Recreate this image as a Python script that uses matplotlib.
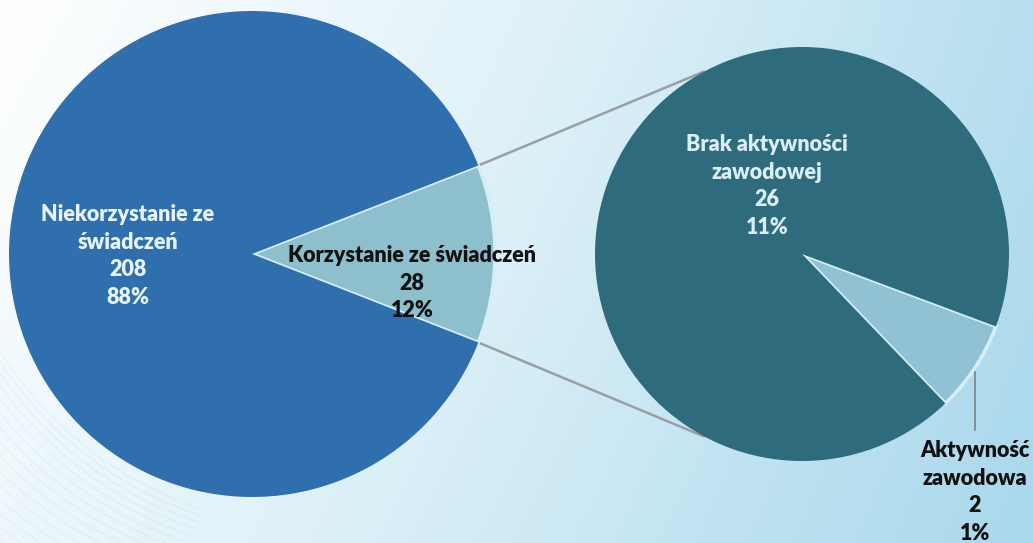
import numpy as np
import matplotlib.pyplot as plt
from matplotlib.colors import LinearSegmentedColormap

# data
main_labels = ['Korzystanie ze świadczeń', 'Niekorzystanie ze\nświadczeń']
main_values = [28, 208]
main_pcts = ['12%', '88%']
sub_labels = ['Aktywność\nzawodowa', 'Brak aktywności\nzawodowej']
sub_values = [2, 26]
sub_pcts = ['1%', '11%']

W, H = 1033, 543
fig = plt.figure(figsize=(W / 100, H / 100), dpi=100)
plt.rcParams['font.family'] = ['Lato', 'DejaVu Sans']

# background gradient
bg = fig.add_axes([0, 0, 1, 1], zorder=0)
xx, yy = np.meshgrid(np.linspace(0, 1, 400), np.linspace(0, 1, 200))
t = np.clip(0.85 * xx + 0.25 * yy - 0.1 * xx * yy, 0, 1)
cmap = LinearSegmentedColormap.from_list('bgc', ['#ffffff', '#dcf0f8', '#a9d8ec'])
bg.imshow(t, cmap=cmap, extent=[0, W, 0, H], aspect='auto', origin='upper')
# faint swirl lines bottom-left
for k in range(40):
    th = np.linspace(0.6 * np.pi, 1.6 * np.pi, 200)
    r = 420 + k * 4
    bg.plot(260 + 60 * np.cos(k / 8) + r * np.cos(th) * 0.9,
            H - (150 + k * 3 + r * np.sin(th) * 0.9),
            color='#9ccfe2', lw=0.4, alpha=0.35)
bg.set_xlim(0, W)
bg.set_ylim(0, H)
bg.axis('off')

ax = fig.add_axes([0, 0, 1, 1], zorder=1)
ax.patch.set_alpha(0)

c1 = (252, H - 254)
r1 = 243
c2 = (802, H - 254)
r2 = 207

half = 180 * main_values[0] / sum(main_values)
w1, _ = ax.pie(main_values, colors=['#8dbfcd', '#2f6fae'], startangle=-half,
               center=c1, radius=r1, counterclock=True)
w2, _ = ax.pie(sub_values, colors=['#90c2d3', '#2e6b7c'], startangle=-46.2,
               center=c2, radius=r2, counterclock=True)
for w in list(w1) + list(w2):
    w.set_edgecolor('none')
    w.set_linewidth(0)
w1[0].set_edgecolor('#d6eef5'); w1[0].set_linewidth(2.5)
w2[0].set_edgecolor('#d6eef5'); w2[0].set_linewidth(2.5)

# connector lines
for sgn in (1, -1):
    a = np.radians(sgn * half)
    b = np.radians(sgn * 118)
    ax.plot([c1[0] + r1 * np.cos(a), c2[0] + r2 * np.cos(b)],
            [c1[1] + r1 * np.sin(a), c2[1] + r2 * np.sin(b)],
            color='#9a9fa3', lw=1.8, zorder=0.5, solid_capstyle='butt')

# leader line for small slice
ax.plot([975, 975], [H - 372, H - 430], color='#7f8a90', lw=1.3)

fs = 15.5
ls = 1.4
wt = 'heavy'
ax.text(128, H - 256, f'{main_labels[1]}\n{main_values[1]}\n{main_pcts[1]}',
        ha='center', va='center', fontsize=fs, fontweight=wt,
        color='#e9f4f8', linespacing=ls)
ax.text(412, H - 283, f'{main_labels[0]}\n{main_values[0]}\n{main_pcts[0]}',
        ha='center', va='center', fontsize=fs, fontweight=wt,
        color='#111111', linespacing=ls)
ax.text(767, H - 186, f'{sub_labels[1]}\n{sub_values[1]}\n{sub_pcts[1]}',
        ha='center', va='center', fontsize=fs, fontweight=wt,
        color='#d9eef5', linespacing=ls)
ax.text(975, H - 492, f'{sub_labels[0]}\n{sub_values[0]}\n{sub_pcts[0]}',
        ha='center', va='center', fontsize=fs, fontweight=wt,
        color='#111111', linespacing=ls)

ax.set_xlim(0, W)
ax.set_ylim(0, H)
ax.set_aspect('auto')
ax.axis('off')

fig.savefig('out.png', dpi=100)
